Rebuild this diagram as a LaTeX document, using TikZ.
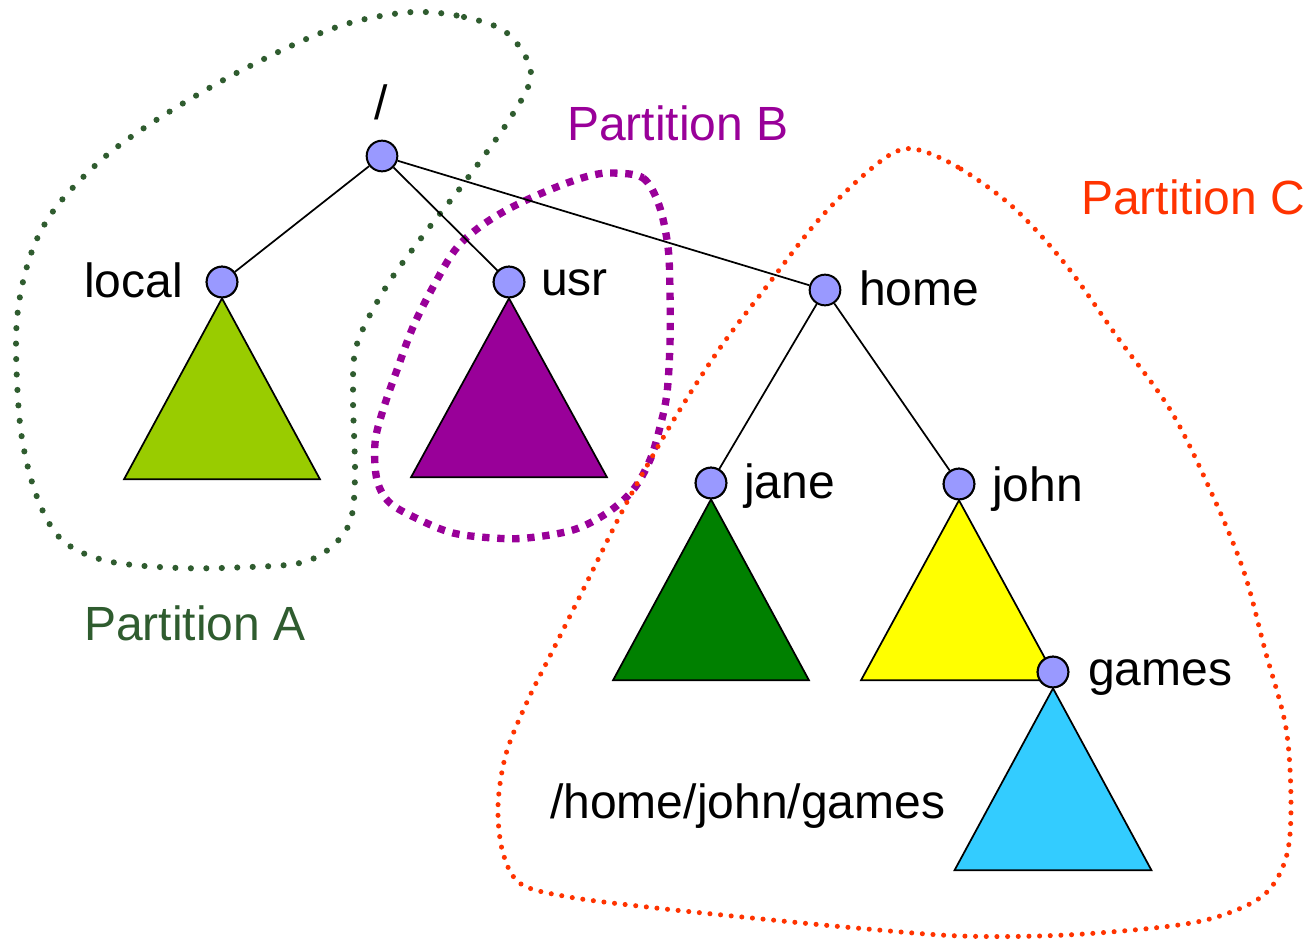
\documentclass[tikz,border=0pt]{standalone}
\usepackage{fontspec}
\setmainfont{Liberation Sans}
\usetikzlibrary{calc}
\definecolor{partA}{RGB}{47,92,47}
\definecolor{partB}{RGB}{153,0,153}
\definecolor{partC}{RGB}{255,51,0}
\definecolor{vfill}{RGB}{153,153,255}
\definecolor{tLocal}{RGB}{153,204,0}
\definecolor{tUsr}{RGB}{153,0,153}
\definecolor{tJane}{RGB}{0,128,0}
\definecolor{tJohn}{RGB}{255,255,0}
\definecolor{tGames}{RGB}{51,204,255}
\begin{document}
\begin{tikzpicture}[x=0.75pt,y=-0.75pt,
  vertex/.style={circle,draw=black,line width=1.5pt,fill=vfill,inner sep=0pt,minimum size=23pt},
  lbl/.style={anchor=base west,inner sep=0pt,font=\fontsize{36}{43}\selectfont},
  edge/.style={line width=1.3pt},
  subtree/.style={draw=black,line width=1.3pt},
  outlineA/.style={draw=partA,line width=4.6pt,line cap=round,dash pattern=on 0pt off 11.6pt},
  outlineB/.style={draw=partB,line width=5.5pt,dash pattern=on 5.5pt off 5.8pt},
  outlineC/.style={draw=partC,line width=3.8pt,line cap=round,dash pattern=on 0pt off 8pt}]
\useasboundingbox (0,0) rectangle (1307,941);

% partition boundaries
\draw[outlineA] plot[smooth cycle,tension=0.55] coordinates {
  (414,12) (464,17) (507,33) (531,73) (511,117) (464,183) (425,233) (386,287)
  (357,344) (353,394) (355,475) (350,522) (329,549) (300,563) (250,567) (179,568)
  (107,561) (62,540) (37,497) (21,432) (16,344) (21,291) (36,241) (61,201)
  (107,155) (161,117) (229,77) (304,40) (357,21)};
\draw[outlineB] plot[smooth cycle,tension=0.55] coordinates {
  (613,173) (643,178) (659,205) (668,247) (670,293) (670,343) (667,393) (660,427)
  (650,460) (633,490) (607,513) (573,530) (527,538) (493,538) (453,533) (420,520)
  (390,503) (377,480) (375,443) (383,410) (397,370) (413,327) (433,287) (455,250)
  (477,229) (503,212) (533,197) (567,183) (593,175)};
\draw[outlineC] plot[smooth cycle,tension=0.55] coordinates {
  (919,150) (961,169) (1014,208) (1066,265) (1118,338) (1171,411) (1212,494)
  (1244,572) (1265,650) (1286,728) (1291,806) (1286,858) (1265,894) (1223,915)
  (1171,926) (1066,935) (961,936) (856,928) (752,918) (647,907) (569,897)
  (521,884) (503,853) (498,806) (506,754) (527,702) (553,650) (584,588)
  (626,504) (673,421) (720,348) (767,286) (815,224) (856,182) (893,153)};

% directory nodes
\node[vertex] (nroot)  at (382,156) {};
\node[vertex] (nlocal) at (222,282) {};
\node[vertex] (nusr)   at (509,282) {};
\node[vertex] (nhome)  at (825,290) {};
\node[vertex] (njane)  at (711,483) {};
\node[vertex] (njohn)  at (959,484) {};

% tree edges
\draw[edge] (nroot) -- (nlocal);
\draw[edge] (nroot) -- (nusr);
\draw[edge] (nroot) -- (nhome);
\draw[edge] (nhome) -- (njane);
\draw[edge] (nhome) -- (njohn);

% subtrees
\filldraw[subtree,fill=tLocal] (nlocal.south) -- ++(-98,181) -- ++(196,0) -- cycle;
\filldraw[subtree,fill=tUsr]   (nusr.south)   -- ++(-98,179) -- ++(196,0) -- cycle;
\filldraw[subtree,fill=tJane]  (njane.south)  -- ++(-98,181) -- ++(196,0) -- cycle;
\filldraw[subtree,fill=tJohn]  (njohn.south)  -- ++(-98,180) -- ++(196,0) -- cycle;
\node[vertex] (ngames) at (1053,672) {};
\filldraw[subtree,fill=tGames] (ngames.south) -- ++(-98.5,182) -- ++(197,0) -- cycle;
\node[vertex] at (nlocal) {};
\node[vertex] at (nusr) {};
\node[vertex] at (njane) {};
\node[vertex] at (njohn) {};
\node[vertex] at (ngames) {};

% labels
\node[lbl,anchor=base] (troot) at (381,120) {/};
\node[lbl,anchor=base east] (tlocal) at (183,298) {local};
\node[lbl] (tusr)   at (541,296) {usr};
\node[lbl] (thome)  at (859,306) {home};
\node[lbl] (tjane)  at (744,498) {jane};
\node[lbl] (tjohn)  at (992,501) {john};
\node[lbl] (tgames) at (1088,685) {games};
\node[lbl] (tpath)  at (550,818) {/home/john/games};
\node[lbl,text=partA] (tA) at (84,640) {Partition A};
\node[lbl,text=partB] (tB) at (567,141) {Partition B};
\node[lbl,text=partC] (tC) at (1081,215) {Partition C};
\end{tikzpicture}
\end{document}
